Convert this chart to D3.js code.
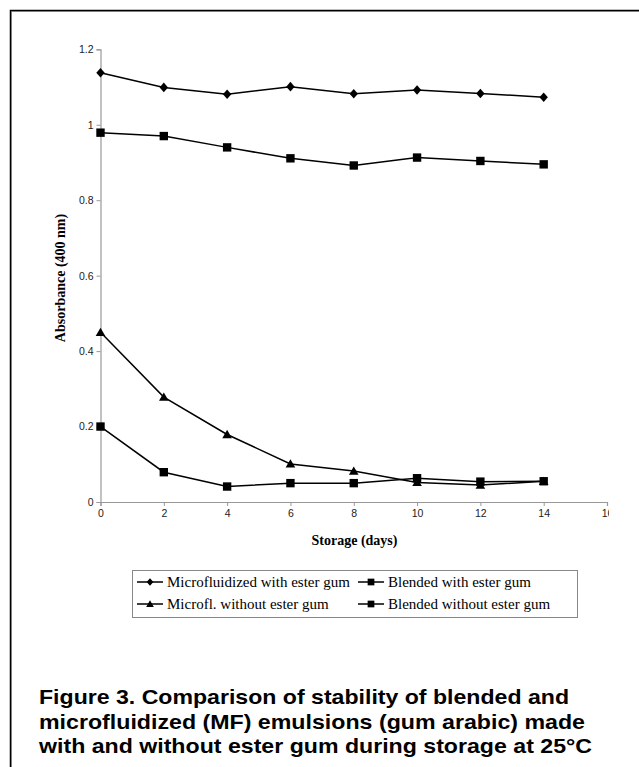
<!DOCTYPE html>
<html><head><meta charset="utf-8">
<script src="https://cdn.jsdelivr.net/npm/d3@7"></script>
<style>html,body{margin:0;padding:0;background:#fff;}</style>
</head><body>
<script>
const days = [0, 2, 4, 6, 8, 10, 12, 14];
const mfWithEster = [1.138, 1.099, 1.081, 1.101, 1.082, 1.092, 1.083, 1.073];
const blendedWithEster = [0.979, 0.970, 0.940, 0.911, 0.892, 0.913, 0.904, 0.895];
const mfWithoutEster = [0.450, 0.278, 0.179, 0.101, 0.082, 0.052, 0.045, 0.055];
const blendedWithoutEster = [0.200, 0.079, 0.041, 0.050, 0.050, 0.063, 0.054, 0.055];
const xTicks = [0, 2, 4, 6, 8, 10, 12, 14, 16];
const yTicks = [0, 0.2, 0.4, 0.6, 0.8, 1, 1.2];
const seriesNames = ["Microfluidized with ester gum", "Blended with ester gum", "Microfl. without ester gum", "Blended without ester gum"];
const seriesSymbols = ["diamond", "square", "triangle", "square"];
const captionLines = [
  "Figure 3. Comparison of stability of blended and",
  "microfluidized (MF) emulsions (gum arabic) made",
  "with and without ester gum during storage at 25\u00B0C"
];
const captionWidths = [530, 546, 553];

const W = 639, H = 767;
const svg = d3.select("body").append("svg").attr("width", W).attr("height", H);

// outer frame (left + top)
svg.append("path").attr("d", `M10.5,${H} V10.5 H${W}`).attr("fill","none").attr("stroke","#aaa").attr("stroke-width",1).attr("transform","translate(1,1)");
svg.append("path").attr("d", `M10.5,${H} V10.5 H${W}`).attr("fill","none").attr("stroke","#000").attr("stroke-width",1.5);

const x = d3.scaleLinear().domain([0, 16]).range([100.5, 607]);
const y = d3.scaleLinear().domain([0, 1.2]).range([502, 49.3]);

const axisColor = "#999";
svg.append("defs").append("clipPath").attr("id","xclip").append("rect").attr("x",0).attr("y",0).attr("width",609).attr("height",H);

const gx = svg.append("g").attr("transform", `translate(0,${y(0)})`).attr("clip-path","url(#xclip)")
  .call(d3.axisBottom(x).tickValues(xTicks).tickSize(4).tickPadding(4).tickFormat(d3.format("d")));
const gy = svg.append("g").attr("transform", `translate(${x(0)},0)`)
  .call(d3.axisLeft(y).tickValues(yTicks).tickSize(4).tickPadding(3).tickFormat(d => d === 0 ? "0" : (d === 1 ? "1" : d3.format(".1f")(d))));
[gx, gy].forEach(g => {
  g.select(".domain").attr("stroke", axisColor).attr("stroke-width", 1.2);
  g.selectAll(".tick line").attr("stroke", axisColor);
  g.selectAll(".tick text").attr("fill", "#222").attr("font-family", "Liberation Sans, Arial, sans-serif").attr("font-size", 10.5);
});

// axis titles
svg.append("text").attr("x", 354.5).attr("y", 545).attr("text-anchor","middle")
  .attr("font-family","Liberation Serif, Times New Roman, serif").attr("font-weight","bold").attr("font-size",14)
  .text("Storage (days)");
svg.append("text").attr("transform","translate(65,278) rotate(-90)").attr("text-anchor","middle")
  .attr("font-family","Liberation Serif, Times New Roman, serif").attr("font-weight","bold").attr("font-size",14)
  .text("Absorbance (400 nm)");

function markerPath(sym, k) {
  if (sym === "diamond") { const w = 4.2*k, h = 4.8*k; return `M0,${-h}L${w},0L0,${h}L${-w},0Z`; }
  if (sym === "square") { const s = 4.2*k; return `M${-s},${-s}H${s}V${s}H${-s}Z`; }
  const w = 4.8*k, h = 4.6*k; return `M0,${-h}L${w},${h*0.8}L${-w},${h*0.8}Z`;
}
const allSeries = [mfWithEster, blendedWithEster, mfWithoutEster, blendedWithoutEster];
const line = d3.line().x((d, i) => x(days[i])).y(d => y(d));

allSeries.forEach((vals, si) => {
  svg.append("path").datum(vals).attr("d", line).attr("fill","none").attr("stroke","#000").attr("stroke-width",1.5);
  const sym = seriesSymbols[si];
  svg.append("g").selectAll("path").data(vals).join("path")
    .attr("transform", (d, i) => `translate(${x(days[i])},${y(d)})`)
    .attr("d", markerPath(sym, 1))
    .attr("fill","#000");
});

// legend
const lg = svg.append("g");
lg.append("rect").attr("x",132.5).attr("y",570.5).attr("width",445).attr("height",47)
  .attr("fill","none").attr("stroke","#888").attr("stroke-width",1);
const legPos = [[137, 582], [358, 582], [137, 604], [358, 604]];
seriesNames.forEach((name, i) => {
  const [lx, ly] = legPos[i];
  lg.append("line").attr("x1",lx).attr("x2",lx+26).attr("y1",ly).attr("y2",ly).attr("stroke","#000").attr("stroke-width",1.5);
  const sym = seriesSymbols[i];
  lg.append("path").attr("transform",`translate(${lx+13},${ly})`).attr("d", markerPath(sym, 0.8)).attr("fill","#000");
  lg.append("text").attr("x", lx+30).attr("y", ly+5).attr("font-family","Liberation Serif, Times New Roman, serif")
    .attr("font-size",15).attr("fill","#000").text(name);
});

// caption
captionLines.forEach((t, i) => {
  svg.append("text").attr("x", 39).attr("y", 704 + i*24.5)
    .attr("font-family","Liberation Sans, Arial, sans-serif").attr("font-weight","bold").attr("font-size",21)
    .attr("textLength", captionWidths[i]).attr("lengthAdjust","spacingAndGlyphs")
    .attr("fill","#000").text(t);
});
</script>
</body></html>
